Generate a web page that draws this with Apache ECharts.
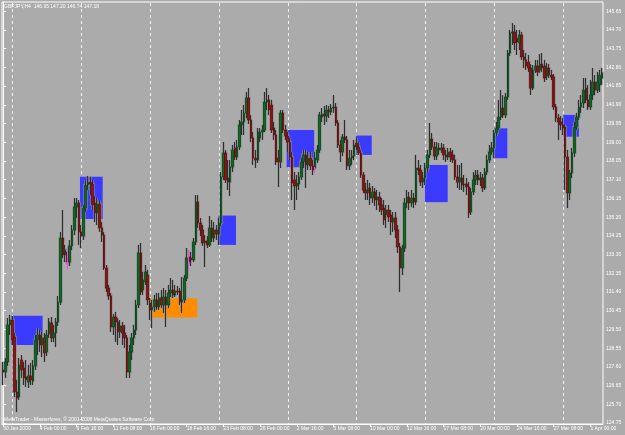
<!DOCTYPE html>
<html>
<head>
<meta charset="utf-8">
<script src="https://cdn.jsdelivr.net/npm/echarts@6/dist/echarts.min.js"></script>
<style>
  html, body { margin: 0; padding: 0; background: #ababab; }
  #chart { width: 625px; height: 435px; }
</style>
</head>
<body>
<div id="chart"></div>
<script>
// GBPJPY H4, 30 Jan 2009 08:00 .. 1 Apr 2009 20:00
var opens = [
  127.44, 127.34, 127.85, 129.73, 129.98, 129.12, 126.33, 126.07, 127.95, 127.54,
  127.09, 126.83, 127.14, 126.88, 127.65, 128.97, 129.22, 128.71, 129.07, 128.36,
  129.27, 129.83, 129.07, 129.32, 129.88, 130.89, 134.14, 133.28, 133.43, 132.92,
  133.74, 134.55, 135.71, 135.92, 134.45, 134.24, 135.66, 136.83, 136.98, 136.88,
  135.92, 135.41, 135.87, 134.65, 134.29, 132.62, 131.60, 131.20, 129.62, 130.13,
  129.88, 129.37, 129.68, 129.32, 129.07, 127.34, 128.36, 129.07, 129.47, 130.74,
  133.38, 131.50, 131.91, 132.26, 130.84, 130.49, 130.64, 131.00, 130.64, 131.10,
  130.74, 131.15, 130.74, 131.35, 131.50, 131.25, 131.45, 131.45, 130.89, 131.00,
  132.11, 133.18, 133.13, 133.03, 133.94, 135.97, 134.90, 134.55, 133.89, 133.99,
  133.79, 134.65, 134.14, 134.55, 134.34, 134.90, 137.24, 138.46, 137.19, 136.98,
  137.74, 138.71, 138.25, 138.76, 139.88, 140.03, 140.49, 141.25, 140.13, 139.22,
  138.20, 138.10, 139.22, 139.52, 139.62, 141.04, 141.15, 140.89, 139.72, 139.37,
  138.20, 138.00, 140.49, 139.62, 139.32, 139.01, 138.25, 137.09, 136.78, 136.88,
  137.24, 138.00, 138.36, 137.85, 138.20, 137.80, 137.69, 138.10, 138.61, 140.28,
  140.43, 140.33, 140.64, 140.54, 140.74, 140.79, 139.98, 138.86, 138.51, 139.27,
  139.12, 137.80, 138.20, 138.30, 138.96, 138.76, 138.46, 137.34, 136.58, 136.43,
  136.68, 136.17, 136.48, 136.07, 136.22, 135.82, 135.66, 135.31, 135.56, 135.31,
  134.95, 135.16, 134.55, 133.69, 132.62, 133.63, 135.92, 136.22, 135.92, 136.17,
  135.97, 137.69, 137.59, 136.98, 137.19, 137.69, 138.36, 139.17, 138.76, 138.30,
  138.71, 138.61, 138.71, 138.36, 138.25, 138.51, 138.36, 138.10, 137.24, 136.98,
  137.19, 136.83, 136.88, 136.73, 135.46, 136.48, 137.09, 137.34, 137.09, 137.19,
  136.68, 137.49, 138.10, 138.51, 138.71, 139.47, 139.72, 140.28, 140.74, 140.38,
  141.30, 143.53, 144.55, 144.60, 144.29, 144.04, 144.44, 143.33, 143.18, 143.07,
  142.77, 141.75, 142.67, 142.87, 142.67, 142.97, 142.87, 142.36, 142.77, 142.41,
  142.31, 140.79, 140.23, 140.03, 139.88, 139.77, 138.25, 136.43, 137.44, 138.46,
  139.77, 140.28, 140.79, 140.99, 141.75, 141.15, 140.79, 141.40, 142.06, 141.65,
  141.91, 142.26
];
var closes = [
  127.34, 127.85, 129.73, 129.98, 128.97, 126.33, 126.02, 127.70, 127.44, 127.04,
  126.94, 127.14, 126.94, 127.65, 128.97, 129.22, 128.71, 129.07, 128.31, 129.22,
  129.88, 129.07, 129.32, 129.88, 130.89, 134.14, 133.28, 133.53, 132.92, 133.74,
  134.55, 135.71, 135.92, 134.45, 134.24, 135.66, 136.83, 136.98, 136.88, 135.82,
  135.41, 135.87, 134.65, 134.29, 132.62, 131.60, 131.20, 129.62, 130.13, 129.88,
  129.37, 129.68, 129.32, 129.07, 127.34, 128.36, 129.07, 129.47, 130.74, 133.38,
  131.40, 132.01, 132.42, 131.00, 130.49, 130.64, 131.00, 130.64, 131.10, 130.74,
  131.15, 130.74, 131.35, 131.50, 131.25, 131.45, 131.40, 130.89, 131.00, 132.11,
  133.13, 132.92, 133.03, 133.94, 135.97, 134.90, 134.55, 133.89, 133.99, 133.79,
  134.65, 134.14, 134.55, 134.34, 134.90, 137.24, 138.46, 137.09, 136.98, 137.74,
  138.61, 138.25, 138.76, 139.88, 140.03, 140.49, 141.25, 140.13, 139.22, 138.20,
  138.10, 139.52, 139.52, 139.62, 141.04, 141.15, 140.64, 139.62, 139.37, 138.00,
  138.00, 140.49, 139.62, 139.32, 139.01, 138.25, 136.93, 136.78, 136.93, 137.24,
  138.00, 138.36, 137.85, 138.20, 137.80, 137.59, 138.20, 138.61, 140.38, 140.43,
  140.33, 140.64, 140.54, 140.74, 140.79, 139.98, 138.86, 138.51, 139.27, 139.12,
  137.80, 138.20, 138.30, 138.86, 138.76, 138.46, 137.34, 136.58, 136.43, 136.68,
  136.17, 136.48, 136.07, 136.22, 135.82, 135.56, 135.06, 135.56, 135.21, 134.95,
  135.16, 134.55, 133.69, 132.62, 133.63, 135.92, 136.22, 135.92, 136.17, 135.97,
  137.69, 137.59, 136.98, 137.19, 137.69, 138.36, 139.17, 138.76, 138.30, 138.71,
  138.61, 138.71, 138.36, 138.25, 138.51, 138.25, 138.10, 137.24, 136.98, 137.19,
  136.83, 136.88, 136.73, 135.41, 136.48, 137.09, 137.34, 137.09, 137.19, 136.68,
  137.49, 138.10, 138.51, 138.71, 139.47, 139.72, 140.28, 140.74, 140.38, 141.30,
  143.53, 144.55, 144.60, 144.04, 144.09, 144.44, 143.33, 143.18, 142.87, 142.77,
  141.75, 142.67, 142.87, 142.57, 142.97, 142.77, 142.26, 142.77, 142.41, 142.31,
  140.79, 140.23, 140.03, 139.88, 139.72, 138.25, 136.43, 137.44, 138.46, 139.77,
  140.28, 140.79, 140.99, 141.65, 141.15, 140.79, 141.40, 142.06, 141.65, 142.06,
  142.41, 142.52
];
var lows = [
  126.68, 127.04, 127.65, 129.22, 128.71, 126.07, 125.31, 125.92, 127.04, 126.68,
  126.58, 126.53, 126.68, 126.68, 127.44, 128.20, 128.36, 128.10, 127.85, 128.15,
  129.07, 128.86, 128.86, 128.61, 129.68, 130.74, 133.13, 132.92, 132.77, 132.72,
  133.53, 134.29, 135.16, 133.79, 133.63, 134.04, 135.46, 136.58, 136.32, 135.56,
  134.95, 134.80, 134.45, 133.94, 132.52, 131.40, 131.00, 129.37, 129.22, 128.86,
  128.71, 129.07, 128.71, 128.56, 127.04, 127.04, 127.95, 128.71, 129.22, 130.59,
  131.25, 131.25, 131.76, 130.74, 129.98, 129.57, 130.39, 130.49, 130.49, 130.59,
  130.34, 129.62, 130.59, 131.15, 131.10, 131.15, 131.25, 130.74, 130.34, 130.84,
  131.96, 132.77, 132.72, 132.92, 133.79, 134.65, 134.24, 133.74, 132.67, 133.63,
  133.69, 133.94, 133.94, 134.04, 133.79, 134.75, 137.09, 136.93, 136.58, 136.27,
  137.49, 138.10, 138.10, 138.61, 139.37, 139.37, 140.23, 139.93, 139.01, 137.85,
  137.69, 137.95, 139.01, 139.12, 139.52, 140.64, 140.38, 139.47, 139.12, 137.85,
  136.73, 137.69, 139.47, 139.12, 138.51, 138.10, 136.07, 135.56, 136.07, 136.58,
  137.09, 137.69, 136.68, 137.59, 137.59, 137.34, 137.59, 137.95, 138.46, 140.03,
  139.88, 140.03, 140.23, 140.38, 140.49, 139.83, 138.71, 138.00, 138.30, 138.96,
  137.59, 137.59, 137.85, 138.10, 138.61, 138.36, 137.19, 136.43, 136.07, 136.07,
  135.82, 135.92, 135.77, 135.56, 135.46, 135.31, 134.80, 134.65, 134.95, 134.29,
  134.45, 134.14, 133.38, 131.40, 132.26, 133.43, 135.66, 135.56, 135.71, 135.66,
  135.82, 137.34, 136.78, 136.68, 136.83, 137.49, 138.20, 138.61, 138.10, 138.10,
  138.36, 138.46, 138.10, 138.00, 138.10, 138.00, 137.95, 137.09, 136.68, 136.58,
  136.58, 136.48, 136.32, 135.16, 135.31, 136.32, 136.83, 136.83, 136.78, 136.48,
  136.58, 137.34, 137.95, 138.36, 138.20, 139.32, 139.62, 140.13, 140.23, 140.23,
  141.15, 143.38, 143.94, 143.68, 143.43, 143.68, 143.18, 142.77, 142.67, 142.57,
  141.40, 141.65, 142.52, 142.36, 142.52, 142.57, 142.06, 142.16, 142.26, 142.16,
  140.64, 140.03, 139.12, 139.62, 139.37, 136.58, 135.66, 136.07, 137.19, 138.25,
  139.62, 140.13, 140.49, 140.74, 140.99, 140.64, 140.64, 141.15, 141.40, 141.50,
  141.55, 141.91
];
var highs = [
  127.85, 128.05, 130.08, 130.23, 130.18, 129.32, 126.94, 128.05, 128.20, 127.85,
  127.95, 127.70, 127.80, 127.95, 129.22, 129.57, 129.47, 129.37, 129.32, 129.47,
  130.08, 130.13, 129.73, 130.08, 131.20, 134.45, 135.56, 133.79, 133.63, 134.04,
  134.80, 136.17, 136.17, 136.07, 134.80, 135.82, 137.09, 137.29, 137.24, 137.09,
  136.27, 136.17, 136.07, 134.95, 134.45, 132.77, 131.76, 131.35, 130.28, 130.39,
  130.08, 129.98, 129.88, 129.73, 129.22, 128.71, 129.32, 129.73, 131.00, 133.79,
  133.89, 132.42, 132.77, 132.52, 131.10, 131.00, 131.25, 131.35, 131.35, 131.50,
  131.60, 131.50, 131.76, 132.11, 132.01, 131.76, 131.71, 131.60, 132.16, 132.26,
  133.63, 133.53, 133.43, 134.14, 136.32, 136.32, 135.16, 134.80, 134.29, 134.24,
  135.26, 135.06, 134.95, 134.80, 135.16, 137.49, 139.01, 138.61, 138.10, 138.10,
  138.86, 139.01, 139.12, 140.13, 140.64, 140.89, 141.55, 141.75, 140.38, 139.52,
  138.61, 139.72, 139.72, 139.88, 141.55, 141.75, 141.40, 141.15, 140.03, 139.62,
  138.61, 140.64, 140.64, 139.88, 139.52, 139.22, 138.51, 137.49, 137.34, 137.49,
  138.20, 138.61, 138.61, 138.51, 138.51, 138.10, 138.51, 138.86, 140.54, 140.74,
  140.84, 140.89, 140.84, 140.94, 141.40, 140.99, 140.13, 139.12, 139.42, 140.13,
  139.32, 138.61, 138.61, 139.12, 139.22, 139.01, 138.61, 137.49, 136.93, 137.09,
  136.93, 136.78, 136.68, 136.58, 136.48, 136.17, 136.07, 135.82, 135.82, 135.56,
  135.46, 135.46, 134.80, 133.89, 133.79, 136.17, 136.58, 136.48, 136.58, 136.43,
  138.36, 138.10, 137.85, 137.49, 137.95, 138.61, 139.98, 139.47, 139.01, 139.01,
  138.96, 138.96, 138.91, 138.61, 138.71, 138.71, 138.61, 138.36, 137.85, 137.85,
  137.95, 137.34, 137.19, 136.98, 136.68, 137.49, 137.59, 137.59, 137.49, 137.39,
  137.69, 138.36, 138.86, 139.01, 139.62, 140.03, 141.15, 141.65, 141.40, 141.50,
  143.68, 144.70, 145.05, 144.95, 144.70, 144.70, 144.60, 143.68, 143.53, 143.43,
  142.97, 142.92, 143.18, 143.18, 143.48, 143.53, 143.18, 143.02, 142.97, 142.67,
  142.46, 140.94, 140.43, 140.33, 140.23, 139.93, 138.61, 137.59, 138.71, 140.03,
  140.49, 141.15, 141.40, 142.26, 142.26, 141.91, 142.16, 142.77, 142.41, 142.57,
  142.67, 142.77
];

// time axis labels, one every 16 bars
var tickLabels = [
  "30 Jan 2009", "4 Feb 00:00", "6 Feb 16:00", "11 Feb 08:00", "16 Feb 00:00",
  "18 Feb 16:00", "23 Feb 08:00", "26 Feb 00:00", "2 Mar 16:00", "5 Mar 08:00",
  "10 Mar 00:00", "12 Mar 16:00", "17 Mar 08:00", "20 Mar 00:00", "24 Mar 16:00",
  "27 Mar 08:00", "1 Apr 00:00"
];
var LABEL_EVERY = 16;

// price scale labels
var priceTicks = [
  124.75, 125.70, 126.65, 127.60, 128.55, 129.50, 130.45, 131.40, 132.35, 133.30,
  134.25, 135.20, 136.15, 137.10, 138.05, 139.00, 139.95, 140.90, 141.85, 142.80,
  143.75, 144.70, 145.65
];

// bars where a new week starts (Monday 00:00) -> dashed grid
var weekStarts = [4, 34, 64, 94, 124, 154, 184, 214, 244];

// rectangles: [from bar, to bar, low price, high price]
var zones = [
  [3.4, 17.2, 128.71, 130.19],
  [33.5, 43.4, 135.11, 137.25],
  [63.7, 84.6, 130.10, 131.08],
  [93.8, 101.5, 133.79, 135.28],
  [123.6, 135.6, 137.73, 139.62],
  [153.8, 160.7, 138.36, 139.34],
  [183.9, 193.8, 135.96, 137.85],
  [214.1, 219.8, 138.19, 139.71],
  [244.2, 251.0, 139.28, 140.39]
];
var zoneColors = ["#3b3bff", "#3b3bff", "#ff8c00", "#3b3bff", "#3b3bff",
                  "#3b3bff", "#3b3bff", "#3b3bff", "#3b3bff"];

// small magenta marks: [bar, low price, high price]
var pinkMarks = [
  [27.7, 132.52, 133.64],
  [80.7, 132.52, 133.54],
  [135.6, 137.42, 137.76]
];

var FONT = "Liberation Sans";
var cats = opens.map(function (v, i) { return String(i); });
var wickData = opens.map(function (o, i) { return [o, closes[i], lows[i], highs[i]]; });
var bodyData = opens.map(function (o, i) {
  return [o, closes[i], Math.min(o, closes[i]), Math.max(o, closes[i])];
});

var chart = echarts.init(document.getElementById("chart"));

chart.setOption({
  animation: false,
  backgroundColor: "#ababab",
  grid: {
    left: 2, top: 2, right: 22, bottom: 11,
    show: true, borderColor: "#ffffff", borderWidth: 1,
    backgroundColor: "transparent"
  },
  xAxis: [
    {
      type: "category",
      data: cats,
      boundaryGap: true,
      axisLine: { lineStyle: { color: "#ffffff", width: 1 } },
      axisTick: {
        show: true, alignWithLabel: true, length: 3,
        interval: function (idx) { return idx % LABEL_EVERY === 0; },
        lineStyle: { color: "#ffffff" }
      },
      axisLabel: {
        interval: function (idx) { return idx % LABEL_EVERY === 0; },
        formatter: function (v, idx) { return tickLabels[idx / LABEL_EVERY] || ""; },
        align: "left",
        color: "#ffffff",
        fontFamily: FONT,
        fontSize: 5,
        margin: 2
      },
      splitLine: { show: false }
    },
    {
      // same span as the bars, used for rectangles and grid lines
      type: "value",
      min: -0.5,
      max: opens.length - 0.5,
      show: false
    }
  ],
  yAxis: {
    type: "value",
    position: "right",
    min: 124.70,
    max: 146.12,
    axisLine: { show: true, lineStyle: { color: "#ffffff" } },
    axisTick: {
      show: true, length: 3, customValues: priceTicks,
      lineStyle: { color: "#ffffff" }
    },
    axisLabel: {
      customValues: priceTicks,
      formatter: function (v) { return v.toFixed(2); },
      color: "#ffffff",
      fontFamily: FONT,
      fontSize: 5,
      margin: 3
    },
    splitLine: { show: false }
  },
  graphic: [
    {
      type: "text", left: 4, top: 4,
      style: {
        text: "GBPJPY,H4  146.95 147.20 146.74 147.18",
        fill: "#ffffff", font: "5px " + FONT
      }
    },
    {
      type: "text", left: 4, top: 417,
      style: {
        text: "MetaTrader - Masterforex, \u00a9 2001-2008 MetaQuotes Software Corp.",
        fill: "#ffffff", font: "5px " + FONT
      }
    }
  ],
  series: [
    {
      // weekly dashed grid
      type: "custom",
      xAxisIndex: 1,
      z: 1,
      silent: true,
      data: weekStarts.map(function (b) { return [b]; }),
      encode: { x: 0 },
      renderItem: function (params, api) {
        var cs = params.coordSys;
        var x = Math.round(api.coord([api.value(0), 130])[0]) + 0.5;
        return {
          type: "line",
          shape: { x1: x, y1: cs.y + 1, x2: x, y2: cs.y + cs.height },
          style: { stroke: "#f2f2f2", lineWidth: 1, lineDash: [3, 3] }
        };
      }
    },
    {
      type: "custom",
      xAxisIndex: 1,
      z: 2,
      silent: true,
      data: zones,
      encode: { x: [0, 1], y: [2, 3] },
      renderItem: function (params, api) {
        var p1 = api.coord([api.value(0), api.value(3)]);
        var p2 = api.coord([api.value(1), api.value(2)]);
        return {
          type: "rect",
          shape: { x: p1[0], y: p1[1], width: p2[0] - p1[0], height: p2[1] - p1[1] },
          style: { fill: zoneColors[params.dataIndex] }
        };
      }
    },
    {
      // soft grey shadow round each wick
      type: "candlestick",
      z: 3,
      barWidth: 2,
      data: wickData,
      itemStyle: {
        color: "#8e8e8e", color0: "#8e8e8e",
        borderColor: "#8e8e8e", borderColor0: "#8e8e8e", borderWidth: 2.2
      }
    },
    {
      // wicks
      type: "candlestick",
      z: 4,
      barWidth: 1,
      data: wickData,
      itemStyle: {
        color: "#2e2e2e", color0: "#2e2e2e",
        borderColor: "#2e2e2e", borderColor0: "#2e2e2e", borderWidth: 1
      }
    },
    {
      // bodies
      type: "candlestick",
      z: 5,
      barWidth: 2,
      data: bodyData,
      itemStyle: {
        color: "#0d6a1e", color0: "#931313",
        borderColor: "#08461a", borderColor0: "#650c0c", borderWidth: 0.8
      }
    },
    {
      type: "custom",
      xAxisIndex: 1,
      z: 6,
      silent: true,
      data: pinkMarks,
      encode: { x: 0, y: [1, 2] },
      renderItem: function (params, api) {
        var a = api.coord([api.value(0), api.value(1)]);
        var b = api.coord([api.value(0), api.value(2)]);
        var x = Math.round(a[0]) + 0.5;
        return {
          type: "line",
          shape: { x1: x, y1: a[1], x2: x, y2: b[1] },
          style: { stroke: "#ff3cff", lineWidth: 1 }
        };
      }
    }
  ]
});
</script>
</body>
</html>
